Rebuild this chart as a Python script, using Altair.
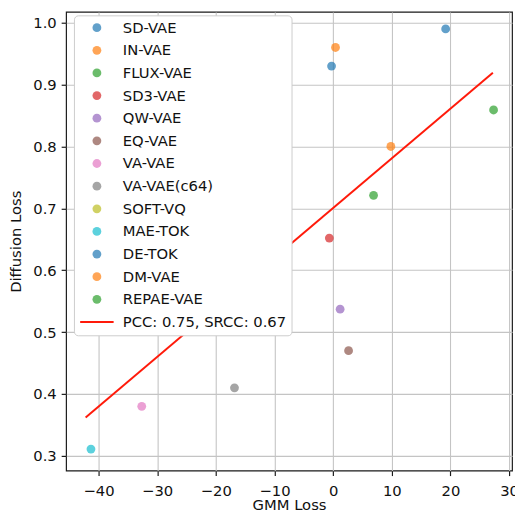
import altair as alt
import pandas as pd

names = ["SD-VAE", "IN-VAE", "FLUX-VAE", "SD3-VAE", "QW-VAE", "EQ-VAE", "VA-VAE",
         "VA-VAE(c64)", "SOFT-VQ", "MAE-TOK", "DE-TOK", "DM-VAE", "REPAE-VAE"]
gmm_loss = [19.18, 0.40, 27.35, -0.65, 1.19, 2.63, -32.63,
            -16.82, -42.2, -41.29, -0.27, 9.84, 6.89]
diffusion_loss = [0.990, 0.960, 0.859, 0.652, 0.537, 0.470, 0.380,
                  0.410, 0.555, 0.311, 0.930, 0.800, 0.721]
point_colors = ["rgba(31,119,180,0.7)", "rgba(255,127,14,0.7)", "rgba(44,160,44,0.7)",
                "rgba(214,39,40,0.7)", "rgba(148,103,189,0.7)", "rgba(140,86,75,0.7)",
                "rgba(227,119,194,0.7)", "rgba(127,127,127,0.7)", "rgba(188,189,34,0.7)",
                "rgba(23,190,207,0.7)", "rgba(31,119,180,0.7)", "rgba(255,127,14,0.7)",
                "rgba(44,160,44,0.7)"]
fit_label = "PCC: 0.75, SRCC: 0.67"
fit_color = "#ff1a0a"
fit_gmm = [-42.2, 27.23]
fit_diffusion = [0.362, 0.919]
x_ticks = [-40, -30, -20, -10, 0, 10, 20, 30]
y_ticks = [0.3, 0.4, 0.5, 0.6, 0.7, 0.8, 0.9, 1.0]

FONT = "DejaVu Sans"
line_symbol = "M-3.8,-0.23L3.8,-0.23L3.8,0.23L-3.8,0.23Z"

pts = pd.DataFrame({"name": names, "gmm": gmm_loss, "diff": diffusion_loss})
fit = pd.DataFrame({"gmm": fit_gmm, "diff": fit_diffusion})

xscale = alt.Scale(domain=[-45.53, 30.5], nice=False, zero=False)
yscale = alt.Scale(domain=[0.2761, 1.0175], nice=False, zero=False)

xaxis = alt.Axis(values=x_ticks, format="d", title="GMM Loss", labelPadding=8,
                 titleY=39, titleBaseline="alphabetic")
yaxis = alt.Axis(values=y_ticks, format=".1f", title="Diffusion Loss", labelPadding=5,
                 titleX=-45.8, titleBaseline="alphabetic")

legend = alt.Legend(
    title=None, orient="none", legendX=8, legendY=3.5, zindex=1,
    fillColor="#ffffff", strokeColor="#cccccc", cornerRadius=4,
    padding=5, rowPadding=7.0, symbolSize=80, symbolOffset=10.8,
    labelOffset=18.8, labelFontSize=15, labelFont=FONT, labelColor="#111111",
    labelLimit=400, symbolStrokeWidth=0, direction="vertical",
)

dom = names + [fit_label]
color = alt.Color("name:N", scale=alt.Scale(domain=dom, range=point_colors + [fit_color]),
                  legend=legend)
shape = alt.Shape("name:N", scale=alt.Scale(domain=dom, range=["circle"] * len(names) + [line_symbol]),
                  legend=legend)

points = alt.Chart(pts).mark_point(filled=True, size=80, opacity=1).encode(
    x=alt.X("gmm:Q", scale=xscale, axis=xaxis),
    y=alt.Y("diff:Q", scale=yscale, axis=yaxis),
    color=color,
    shape=shape,
)

line = alt.Chart(fit).mark_line(color=fit_color, strokeWidth=2).encode(
    x=alt.X("gmm:Q", scale=xscale),
    y=alt.Y("diff:Q", scale=yscale),
)

chart = alt.layer(points, line).properties(
    width=453, height=466,
    autosize=alt.AutoSizeParams(type="none"),
    padding={"left": 59, "top": 0, "right": 3, "bottom": 36},
).configure_view(
    stroke="#1a1a1a", strokeWidth=1.2,
).configure_axis(
    labelFont=FONT, titleFont=FONT, labelFontSize=15, titleFontSize=15,
    titleFontWeight="normal", labelColor="#111111", titleColor="#111111",
    tickColor="#1a1a1a", tickSize=5, tickWidth=1.2, domain=False,
    grid=True, gridColor="#c4c4c4", gridWidth=1.1,
)

chart.save("out.html", embed_options={"renderer": "svg", "actions": False})
